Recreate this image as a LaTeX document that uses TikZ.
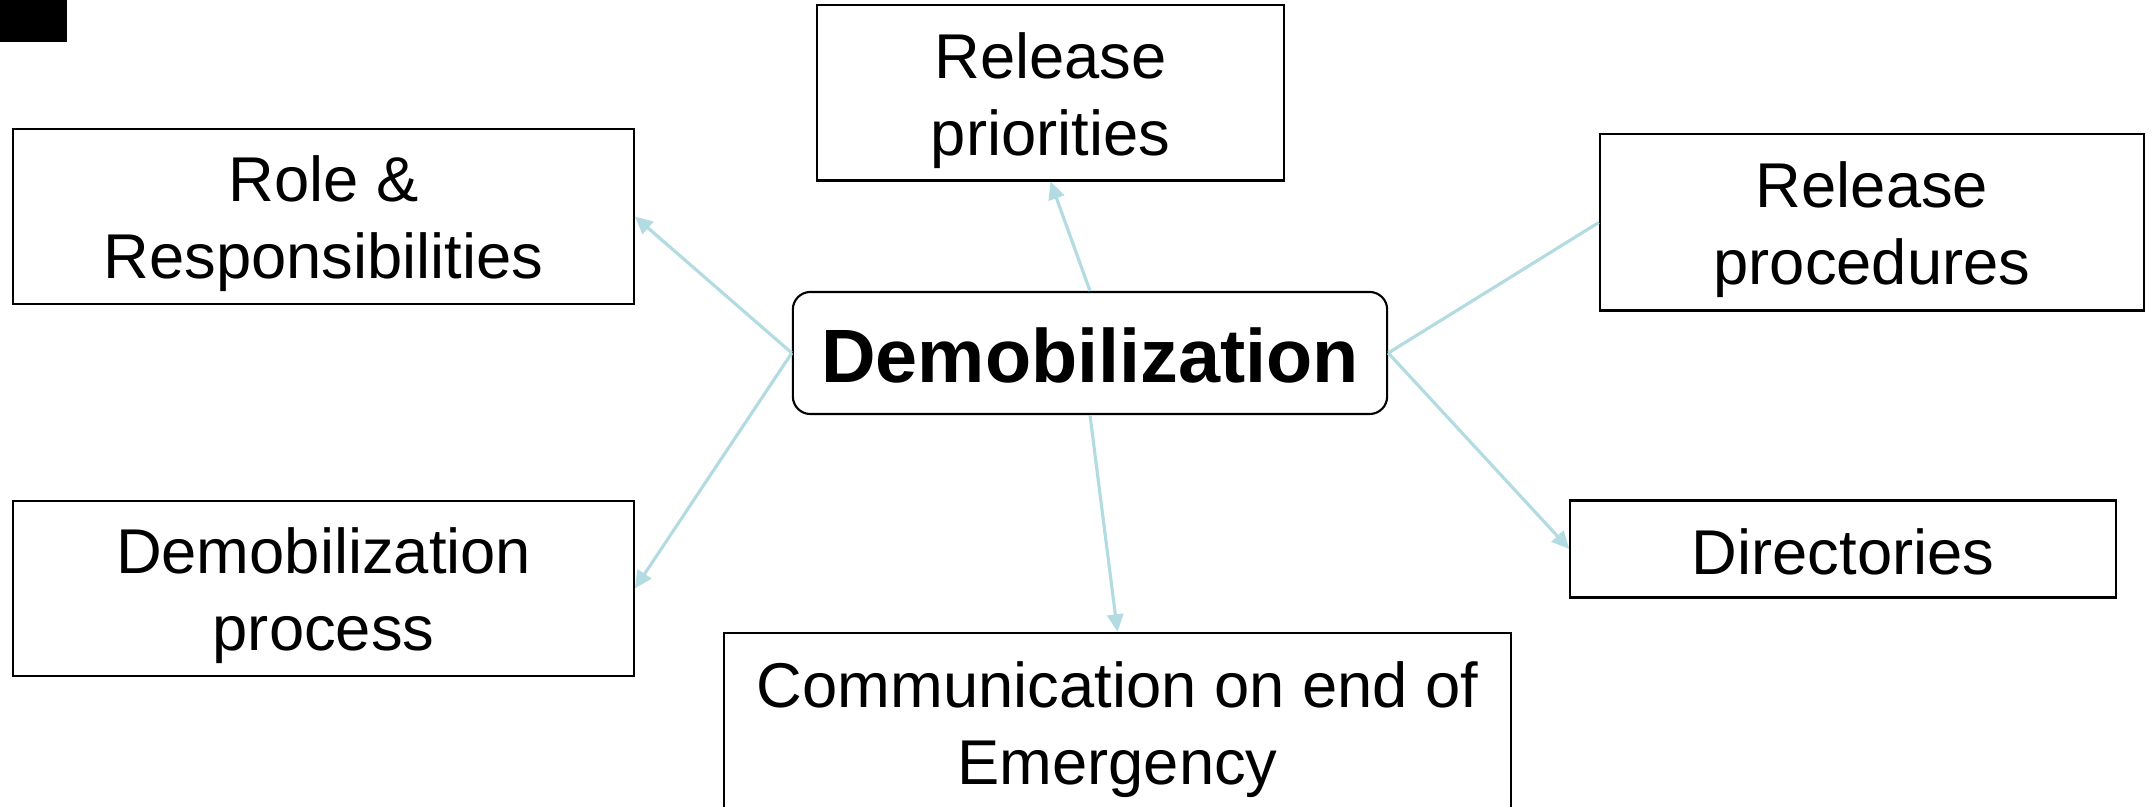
\documentclass[tikz,border=0pt]{standalone}
\usepackage{fontspec}
\setmainfont{Liberation Sans}
\usetikzlibrary{arrows.meta}
\definecolor{linkcol}{RGB}{178,220,225}
\tikzset{
  box/.style={draw=black, line width=0.6pt, fill=white, inner sep=0pt},
  hub/.style={box, rounded corners=5pt},
  txt/.style={inner sep=0pt, align=center, font=\fontsize{18}{22}\selectfont, yshift=-2.1pt},
  txtone/.style={inner sep=0pt, align=center, font=\fontsize{18}{22}\selectfont, yshift=-0.7pt},
  hubtxt/.style={inner sep=0pt, align=center, font=\fontsize{21.5}{25}\selectfont\bfseries, yshift=-0.7pt},
  link/.style={draw=linkcol, line width=0.9pt},
  arr/.style={link, -{Triangle[length=5pt,width=4.6pt]}}
}
\begin{document}
\begin{tikzpicture}[x=0.01cm, y=-0.01cm]
\useasboundingbox (0,0) rectangle (2154,807);
\fill[black] (0,0) rectangle (67,42);
\node[box, minimum width=4.67cm, minimum height=1.75cm,
  label={[txt]center:Release\\priorities}] (rp) at (1050.5,93) {};
\node[box, minimum width=6.2cm, minimum height=1.75cm,
  label={[txt]center:Role \&\\Responsibilities}] (role) at (323.6,216.5) {};
\node[box, minimum width=5.44cm, minimum height=1.76cm,
  label={[txt]center:Release\\procedures}] (proc) at (1872,222.5) {};
\node[hub, minimum width=5.94cm, minimum height=1.22cm,
  label={[hubtxt]center:Demobilization}] (c) at (1090,353) {};
\node[box, minimum width=6.2cm, minimum height=1.75cm,
  label={[txt]center:Demobilization\\process}] (dp) at (323.6,588.5) {};
\node[box, minimum width=5.45cm, minimum height=0.97cm,
  label={[txtone]center:Directories}] (dir) at (1843,549) {};
\node[box, minimum width=7.87cm, minimum height=1.78cm,
  label={[txt]center:Communication on end of\\Emergency}] (comm) at (1117.5,722) {};
\draw[arr] (c.north) -- (rp.south);
\draw[arr] (c.west) -- (role.east);
\draw[arr] (c.west) -- (dp.east);
\draw[link] (c.east) -- (proc.west);
\draw[arr] (c.east) -- (dir.west);
\draw[arr] (c.south) -- (comm.north);
\end{tikzpicture}
\end{document}
